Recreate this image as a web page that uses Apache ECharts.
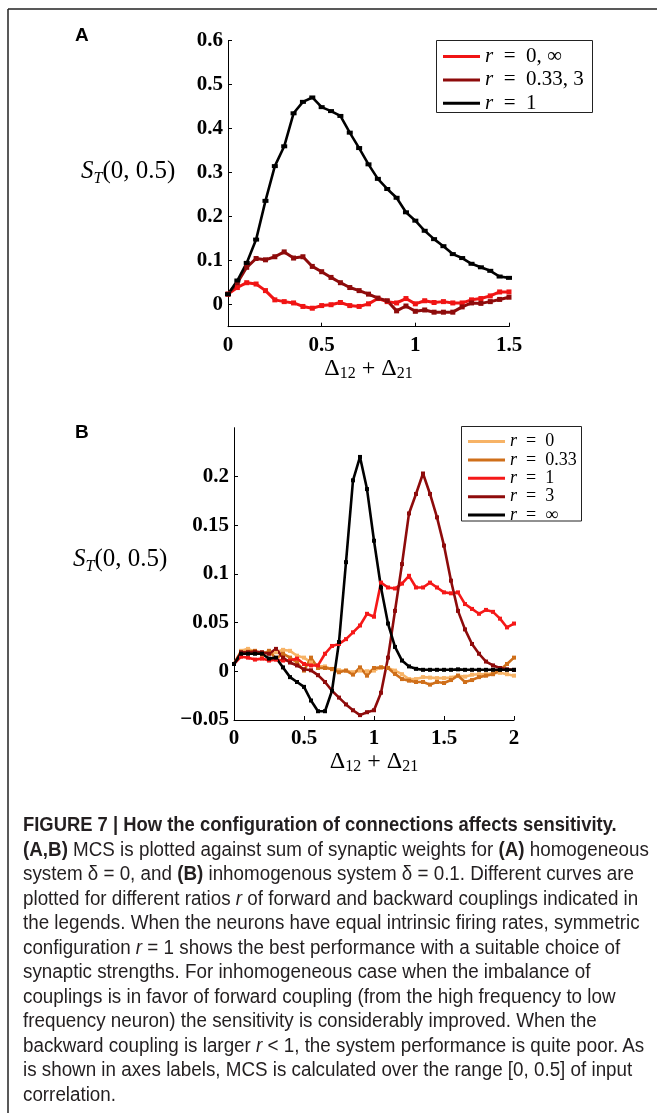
<!DOCTYPE html>
<html><head><meta charset="utf-8">
<script src="https://cdn.jsdelivr.net/npm/echarts@6/dist/echarts.min.js"></script>
<style>
html,body{margin:0;padding:0;background:#fff;}
#wrap{position:relative;width:657px;height:1113px;overflow:hidden;background:#fff;}
#chart{position:absolute;left:0;top:0;width:657px;height:1113px;}
#cap{position:absolute;left:23px;top:812px;font-family:"Liberation Sans",Arial,sans-serif;font-size:20px;line-height:24.5px;color:#231f20;white-space:nowrap;}
#cap div{height:24.5px;transform-origin:0 50%;transform:scaleX(0.94);}
#cap div.t{transform:scaleX(0.92);}
</style></head>
<body>
<div id="wrap">
<div id="chart"></div>
<div id="cap">
<div class="t"><b>FIGURE 7 | How the configuration of connections affects sensitivity.</b></div>
<div><b>(A,B)</b> MCS is plotted against sum of synaptic weights for <b>(A)</b> homogeneous</div>
<div>system δ = 0, and <b>(B)</b> inhomogenous system δ = 0.1. Different curves are</div>
<div>plotted for different ratios <i>r</i> of forward and backward couplings indicated in</div>
<div>the legends. When the neurons have equal intrinsic firing rates, symmetric</div>
<div>configuration <i>r</i> = 1 shows the best performance with a suitable choice of</div>
<div>synaptic strengths. For inhomogeneous case when the imbalance of</div>
<div>couplings is in favor of forward coupling (from the high frequency to low</div>
<div>frequency neuron) the sensitivity is considerably improved. When the</div>
<div>backward coupling is larger <i>r</i> &lt; 1, the system performance is quite poor. As</div>
<div>is shown in axes labels, MCS is calculated over the range [0, 0.5] of input</div>
<div>correlation.</div>
</div>
</div>
<script>
// ---------------- DATA ----------------
// Panel A: x = Δ12 + Δ21
const xA = [0,0.05,0.1,0.15,0.2,0.25,0.3,0.35,0.4,0.45,0.5,0.55,0.6,0.65,0.7,0.75,0.8,0.85,0.9,0.95,1,1.05,1.1,1.15,1.2,1.25,1.3,1.35,1.4,1.45,1.5];
const yA_r0inf = [0.024,0.039,0.05,0.047,0.032,0.011,0.007,0.004,-0.004,-0.008,-0.002,0,0.005,-0.002,-0.004,0.002,0.014,0.007,0.004,0.014,0.002,0.009,0.005,0.007,0.004,0.004,0.011,0.014,0.02,0.029,0.029];
const yA_r033_3 = [0.024,0.05,0.085,0.105,0.102,0.109,0.12,0.106,0.109,0.087,0.075,0.062,0.05,0.039,0.032,0.024,0.015,0.009,-0.014,-0.003,-0.015,-0.012,-0.017,-0.017,-0.017,-0.005,0.004,0.003,0.007,0.012,0.017];
const yA_r1 = [0.024,0.055,0.095,0.148,0.236,0.315,0.36,0.435,0.461,0.471,0.449,0.44,0.429,0.391,0.356,0.319,0.286,0.263,0.243,0.21,0.191,0.168,0.149,0.133,0.115,0.106,0.093,0.085,0.077,0.064,0.061];
const namesA = ['r = 0, ∞', 'r = 0.33, 3', 'r = 1'];
const yTicksA = [0,0.1,0.2,0.3,0.4,0.5,0.6];
const xTicksA = [0,0.5,1,1.5];

// Panel B
const xB = [0,0.05,0.1,0.15,0.2,0.25,0.3,0.35,0.4,0.45,0.5,0.55,0.6,0.65,0.7,0.75,0.8,0.85,0.9,0.95,1,1.05,1.1,1.15,1.2,1.25,1.3,1.35,1.4,1.45,1.5,1.55,1.6,1.65,1.7,1.75,1.8,1.85,1.9,1.95,2];
const yB_r0 = [0.0075,0.021,0.023,0.02,0.0195,0.018,0.0195,0.022,0.021,0.016,0.014,0.009,0.005,0.005,0.002,0.001,0.0007,-0.001,0.0007,0,0.0007,0.004,0.0035,0.0007,-0.003,-0.008,-0.008,-0.006,-0.0065,-0.007,-0.007,-0.0065,-0.0045,-0.0055,-0.0035,-0.003,-0.003,-0.002,-0.0015,-0.003,-0.0045];
const yB_r033 = [0.0075,0.0195,0.02,0.021,0.017,0.021,0.013,0.018,0.014,0.009,0.0007,0.014,0.0034,0.0034,0.0024,-0.001,0.0007,-0.0034,0.004,-0.0045,0.0034,0.004,0.0034,-0.0027,-0.008,-0.0096,-0.011,-0.011,-0.0137,-0.011,-0.012,-0.009,-0.0045,-0.011,-0.009,-0.006,-0.0045,-0.003,0.0014,0.0075,0.014];
const yB_r1 = [0.0075,0.015,0.014,0.012,0.013,0.011,0.012,0.011,0.011,0.013,0.0075,0.006,0.006,0.018,0.026,0.028,0.033,0.04,0.047,0.059,0.056,0.091,0.086,0.085,0.09,0.098,0.086,0.086,0.091,0.086,0.081,0.08,0.081,0.069,0.064,0.059,0.063,0.061,0.054,0.045,0.049];
const yB_r3 = [0.0075,0.0195,0.0195,0.02,0.0195,0.018,0.023,0.014,0.009,0.006,0.002,0.001,-0.004,-0.011,-0.02,-0.027,-0.034,-0.04,-0.045,-0.042,-0.04,-0.022,0.014,0.062,0.11,0.162,0.182,0.203,0.182,0.158,0.129,0.093,0.062,0.043,0.028,0.018,0.01,0.006,0.0034,0.002,0.0014];
const yB_rinf = [0.0075,0.018,0.018,0.018,0.018,0.013,0.014,0.004,-0.006,-0.011,-0.016,-0.03,-0.041,-0.041,-0.02,0.03,0.112,0.196,0.22,0.187,0.134,0.086,0.049,0.025,0.011,0.005,0.0025,0.0015,0.0015,0.0015,0.0015,0.0015,0.002,0.0015,0.0015,0.0015,0.0015,0.0015,0.0015,0.0015,0.0015];
const namesB = ['r = 0', 'r = 0.33', 'r = 1', 'r = 3', 'r = ∞'];
const yTicksB = [-0.05,0,0.05,0.1,0.15,0.2];
const xTicksB = [0,0.5,1,1.5,2];

// ---------------- STYLE ----------------
const SERIF = '"Liberation Serif","DejaVu Serif",serif';
const SANS = '"Liberation Sans",Arial,sans-serif';
const colA = ['#f01414', '#8e0b0b', '#000000'];
const colB = ['#f7b366', '#cf6f1a', '#f51818', '#8e0b0b', '#000000'];
const EN = '\u2002';

function zip(xs, ys){ return xs.map((x,i)=>[x, ys[i]]); }
function fmt(v){ const s = String(Number(v.toFixed(3))); return s.replace('-', '\u2212'); }

const tickLabel = {fontFamily:SERIF, fontWeight:'bold', fontSize:21, color:'#000'};
const axisLineStyle = {color:'#000', width:1};
const xName = '{d|Δ}{s|12}{d| + Δ}{s|21}';
const xNameStyle = {rich:{
  d:{fontFamily:SERIF, fontSize:24, lineHeight:26, color:'#000', verticalAlign:'middle'},
  s:{fontFamily:SERIF, fontSize:16, lineHeight:10, color:'#000', verticalAlign:'bottom'}
}};
function legendFmt(n){ return n.replace(/^r = /, '{i|r}' + EN + '=' + EN); }

function mkX(grid, max, ticks, gap){
  return {type:'value', gridIndex:grid, min:0, max:max, interval:0.5,
    axisLine:{show:true, onZero:false, lineStyle:axisLineStyle},
    axisTick:{show:true, inside:true, length:4, lineStyle:axisLineStyle},
    splitLine:{show:false},
    axisLabel:Object.assign({margin:8, formatter:fmt, showMinLabel:true, showMaxLabel:true}, tickLabel),
    name:xName, nameLocation:'middle', nameGap:gap, nameTextStyle:xNameStyle};
}
function mkY(grid, min, max, ticks){
  return {type:'value', gridIndex:grid, min:min, max:max,
    axisLine:{show:true, onZero:false, lineStyle:axisLineStyle},
    axisTick:{show:true, inside:true, length:4, lineStyle:axisLineStyle, customValues:ticks},
    splitLine:{show:false},
    axisLabel:Object.assign({margin:5, formatter:fmt, customValues:ticks}, tickLabel)};
}
function mkSeries(name, xs, ys, color, xi, yi, width, sym){
  return {type:'line', name:name, xAxisIndex:xi, yAxisIndex:yi, data:zip(xs, ys),
    symbol:'rect', symbolSize:sym, showSymbol:true,
    lineStyle:{color:color, width:width}, itemStyle:{color:color}, emphasis:{disabled:true}, z:2};
}

const seriesA = [
  mkSeries('A:'+namesA[0], xA, yA_r0inf, colA[0], 0, 0, 3, 5),
  mkSeries('A:'+namesA[1], xA, yA_r033_3, colA[1], 0, 0, 3, 5),
  mkSeries('A:'+namesA[2], xA, yA_r1, colA[2], 0, 0, 2.6, [6,4])
];
const seriesB = [
  mkSeries('B:'+namesB[0], xB, yB_r0, colB[0], 1, 1, 2.6, 4),
  mkSeries('B:'+namesB[1], xB, yB_r033, colB[1], 1, 1, 2.6, 4),
  mkSeries('B:'+namesB[2], xB, yB_r1, colB[2], 1, 1, 2.6, 4),
  mkSeries('B:'+namesB[3], xB, yB_r3, colB[3], 1, 1, 2.6, 4),
  mkSeries('B:'+namesB[4], xB, yB_rinf, colB[4], 1, 1, 2.6, 4)
];

function yNameGraphic(x, yc){
  return {type:'text', left:x, top:yc-15, silent:true, style:{
    text:'{i|S}{s|T}{n|(0, 0.5)}',
    rich:{
      i:{fontFamily:SERIF, fontStyle:'italic', fontSize:25, lineHeight:30, verticalAlign:'middle', fill:'#000'},
      s:{fontFamily:SERIF, fontStyle:'italic', fontSize:16, lineHeight:11, verticalAlign:'bottom', fill:'#000'},
      n:{fontFamily:SERIF, fontSize:25, lineHeight:30, verticalAlign:'middle', fill:'#000'}
    }}};
}

const legendRichA = {i:{fontFamily:SERIF, fontStyle:'italic', fontSize:21, color:'#000'}};
const legendRichB = {i:{fontFamily:SERIF, fontStyle:'italic', fontSize:18, color:'#000'}};

const option = {
  animation:false,
  backgroundColor:'#fff',
  grid:[
    {left:228, top:40.7, width:281, height:286},
    {left:234, top:427.7, width:280, height:292.3}
  ],
  xAxis:[ mkX(0, 1.5, xTicksA, 26), mkX(1, 2, xTicksB, 29) ],
  yAxis:[ mkY(0, -0.05, 0.6, yTicksA), mkY(1, -0.05, 0.25, yTicksB) ],
  legend:[
    {orient:'vertical', left:438, top:41, itemWidth:37, itemHeight:3, itemGap:2.4, icon:'rect',
     data:seriesA.map(s=>s.name), selectedMode:false,
     formatter:n=>legendFmt(n.slice(2)),
     textStyle:{fontFamily:SERIF, fontSize:21, color:'#000', rich:legendRichA}},
    {orient:'vertical', left:463, top:427.5, itemWidth:37, itemHeight:3, itemGap:0.4, icon:'rect',
     data:seriesB.map(s=>s.name), selectedMode:false,
     formatter:n=>legendFmt(n.slice(2)),
     textStyle:{fontFamily:SERIF, fontSize:18, color:'#000', rich:legendRichB}}
  ],
  graphic:[
    {type:'line', silent:true, shape:{x1:8, y1:9, x2:8, y2:1113}, style:{stroke:'#222', lineWidth:1.5}},
    {type:'line', silent:true, shape:{x1:8, y1:9, x2:657, y2:9}, style:{stroke:'#222', lineWidth:1.5}},
    {type:'rect', silent:true, shape:{x:436.5, y:40.5, width:156, height:72}, style:{fill:'#fff', stroke:'#222', lineWidth:1}, z:0},
    {type:'rect', silent:true, shape:{x:461.5, y:426.5, width:120, height:94.5}, style:{fill:'#fff', stroke:'#222', lineWidth:1}, z:0},
    {type:'text', silent:true, left:75, top:26, style:{text:'A', font:'bold 19px '+SANS, fill:'#000'}},
    {type:'text', silent:true, left:75, top:423, style:{text:'B', font:'bold 19px '+SANS, fill:'#000'}},
    yNameGraphic(81, 174),
    yNameGraphic(73, 562)
  ],
  series: seriesA.concat(seriesB)
};

const chart = echarts.init(document.getElementById('chart'), null, {renderer:'canvas'});
chart.setOption(option);
</script>
</body></html>
